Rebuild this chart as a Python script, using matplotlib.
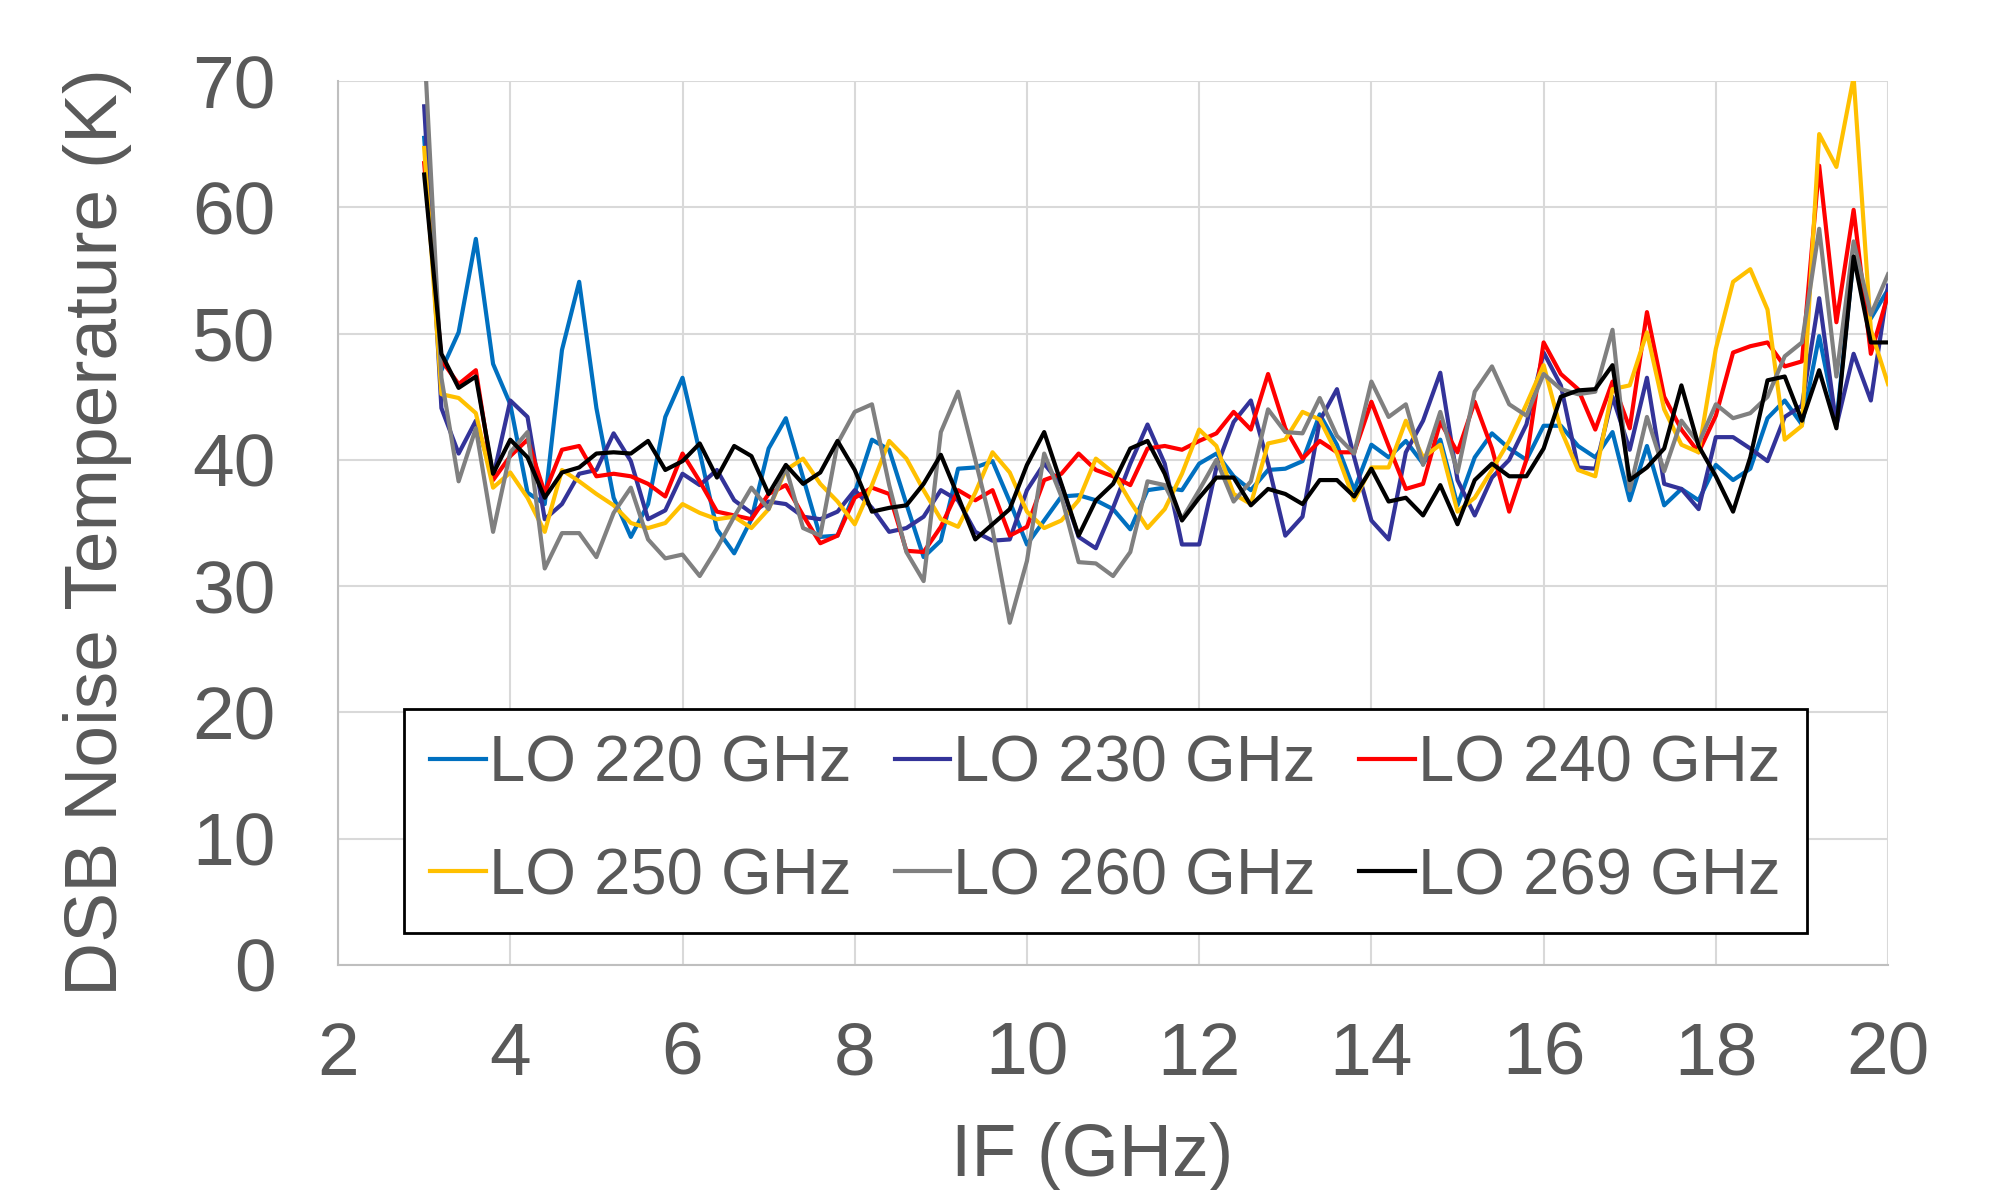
import numpy as np
import matplotlib.pyplot as plt

# IF frequency grid (GHz), one sample every 0.2 GHz from 3 to 20
if_ghz = np.linspace(3.0, 20.0, 86)

# DSB noise temperature (K) for each LO frequency
lo_220 = [65.5, 47.1, 50.1, 57.5, 47.6,
          44.4, 37.4, 36.5, 48.7, 54.1,
          44.1, 37.0, 33.9, 36.5, 43.4,
          46.5, 40.6, 34.5, 32.6, 35.3,
          40.9, 43.3, 38.6, 33.9, 34.0,
          37.4, 41.6, 40.8, 36.5, 32.3,
          33.6, 39.3, 39.4, 39.9, 36.7,
          33.3, 35.2, 37.1, 37.2, 36.8,
          36.1, 34.5, 37.6, 37.8, 37.6,
          39.7, 40.5, 38.7, 37.6, 39.2,
          39.3, 39.9, 43.6, 41.2, 37.6,
          41.2, 40.2, 41.5, 39.7, 41.6,
          36.4, 40.2, 42.1, 40.9, 40.0,
          42.7, 42.7, 41.1, 40.2, 42.2,
          36.8, 41.1, 36.4, 37.7, 36.8,
          39.6, 38.4, 39.3, 43.3, 44.7,
          42.8, 49.8, 43.0, 56.0, 51.2,
          53.5]
lo_230 = [68.0, 44.1, 40.5, 43.1, 38.6,
          44.7, 43.4, 35.3, 36.5, 38.9,
          39.2, 42.1, 39.9, 35.3, 36.0,
          38.9, 38.0, 39.2, 36.8, 35.8,
          36.7, 36.5, 35.5, 35.3, 35.9,
          37.6, 36.2, 34.3, 34.6, 35.5,
          37.6, 36.8, 34.3, 33.6, 33.7,
          37.6, 39.7, 38.0, 33.9, 33.0,
          36.2, 39.7, 42.8, 39.7, 33.3,
          33.3, 39.4, 43.0, 44.7, 39.7,
          34.0, 35.5, 43.1, 45.6, 40.2,
          35.2, 33.7, 40.6, 43.1, 46.9,
          38.4, 35.6, 38.6, 40.0, 42.8,
          48.5, 45.9, 39.4, 39.3, 45.0,
          40.8, 46.5, 38.1, 37.7, 36.1,
          41.8, 41.8, 40.9, 39.9, 43.4,
          44.3, 52.8, 42.7, 48.4, 44.7,
          53.8]
lo_240 = [63.5, 47.9, 46.0, 47.1, 38.4,
          40.3, 41.6, 37.4, 40.8, 41.1,
          38.7, 38.9, 38.7, 38.1, 37.1,
          40.5, 38.3, 35.9, 35.6, 35.3,
          37.3, 38.0, 35.6, 33.4, 34.0,
          37.0, 37.8, 37.3, 32.8, 32.7,
          34.7, 37.6, 36.8, 37.6, 34.0,
          34.7, 38.4, 38.9, 40.5, 39.2,
          38.7, 38.0, 40.9, 41.1, 40.8,
          41.5, 42.1, 43.8, 42.4, 46.8,
          42.5, 40.1, 41.5, 40.6, 40.6,
          44.6, 41.1, 37.7, 38.1, 43.0,
          40.6, 44.6, 40.9, 35.9, 40.0,
          49.3, 46.8, 45.6, 42.4, 46.2,
          42.5, 51.7, 45.0, 42.4, 40.6,
          43.5, 48.5, 49.0, 49.3, 47.4,
          47.8, 63.3, 50.9, 59.8, 48.4,
          53.1]
lo_250 = [64.7, 45.2, 44.9, 43.7, 37.8,
          39.0, 37.0, 34.3, 39.2, 38.3,
          37.3, 36.4, 35.0, 34.6, 35.0,
          36.5, 35.8, 35.3, 35.5, 34.6,
          36.1, 39.2, 40.1, 38.1, 36.7,
          34.9, 38.0, 41.5, 40.1, 37.6,
          35.3, 34.7, 37.4, 40.6, 39.0,
          35.9, 34.6, 35.2, 36.8, 40.1,
          39.0, 36.7, 34.6, 36.1, 38.9,
          42.4, 41.1, 37.3, 36.5, 41.3,
          41.6, 43.8, 43.2, 40.5, 36.8,
          39.4, 39.4, 43.1, 40.2, 41.2,
          35.9, 37.0, 39.2, 41.5, 44.4,
          47.5, 42.4, 39.2, 38.7, 45.6,
          45.9, 50.1, 44.0, 41.2, 40.6,
          48.8, 54.1, 55.1, 51.9, 41.6,
          42.7, 65.8, 63.2, 70.3, 50.3,
          46.0]
lo_260 = [73.0, 46.5, 38.3, 42.5, 34.3,
          40.6, 42.2, 31.4, 34.2, 34.2,
          32.3, 35.8, 37.8, 33.7, 32.2,
          32.5, 30.8, 33.0, 35.5, 37.8,
          36.1, 39.4, 34.6, 34.0, 41.3,
          43.8, 44.4, 38.0, 32.7, 30.4,
          42.2, 45.4, 40.0, 34.5, 27.1,
          32.0, 40.5, 37.1, 31.9, 31.8,
          30.8, 32.7, 38.3, 38.0, 35.3,
          37.6, 40.0, 36.7, 38.3, 44.0,
          42.2, 42.1, 44.9, 41.9, 40.5,
          46.2, 43.4, 44.4, 39.6, 43.8,
          39.0, 45.4, 47.4, 44.4, 43.5,
          46.8, 45.6, 45.2, 45.4, 50.3,
          37.6, 43.4, 39.1, 43.1, 41.3,
          44.4, 43.3, 43.7, 45.0, 48.2,
          49.3, 58.3, 46.6, 57.3, 51.5,
          54.7]
lo_269 = [62.6, 48.4, 45.7, 46.6, 38.9,
          41.6, 40.2, 37.0, 39.0, 39.4,
          40.5, 40.6, 40.5, 41.5, 39.2,
          39.9, 41.3, 38.6, 41.1, 40.3,
          37.3, 39.6, 38.1, 39.0, 41.5,
          39.2, 35.9, 36.2, 36.4, 38.1,
          40.4, 37.1, 33.7, 34.9, 36.1,
          39.6, 42.2, 38.1, 34.0, 36.8,
          38.1, 40.9, 41.5, 38.9, 35.2,
          37.0, 38.6, 38.6, 36.4, 37.7,
          37.3, 36.5, 38.4, 38.4, 37.1,
          39.3, 36.7, 37.0, 35.6, 38.0,
          34.9, 38.4, 39.7, 38.7, 38.7,
          40.9, 45.0, 45.5, 45.6, 47.5,
          38.4, 39.4, 40.9, 45.9, 41.1,
          38.7, 35.9, 40.2, 46.3, 46.6,
          43.1, 47.1, 42.5, 56.1, 49.3,
          49.3]

series = [lo_220, lo_230, lo_240, lo_250, lo_260, lo_269]
labels = ['LO 220 GHz', 'LO 230 GHz', 'LO 240 GHz',
          'LO 250 GHz', 'LO 260 GHz', 'LO 269 GHz']
colours = ['#0070C0', '#333399', '#FF0000', '#FFC000', '#808080', '#000000']

x_ticks = [2, 4, 6, 8, 10, 12, 14, 16, 18, 20]
y_ticks = [0, 10, 20, 30, 40, 50, 60, 70]

TEXT = '#595959'
GRID = '#D9D9D9'


def noise_plot():
    '''
    () -> None
    Plot DSB noise temperature against IF for every LO and save to out.png.
    '''
    plt.rcParams['font.family'] = ['Liberation Sans', 'DejaVu Sans']

    fig = plt.figure(figsize=(19.91, 11.90), dpi=100)
    ax = fig.add_axes([0.1698, 0.1891, 0.9483 - 0.1698, 0.9319 - 0.1891])

    # Draw every LO curve
    lines = []
    for y, lab, col in zip(series, labels, colours):
        ln, = ax.plot(if_ghz, y, color=col, lw=3.0, label=lab, zorder=3)
        lines.append(ln)

    ax.set_xlim(2, 20)
    ax.set_ylim(0, 70)
    ax.set_xticks(x_ticks)
    ax.set_yticks(y_ticks)
    ax.grid(True, color=GRID, lw=1.5, zorder=0)
    ax.set_axisbelow(True)

    for side in ['top', 'right']:
        ax.spines[side].set_visible(False)
    for side in ['left', 'bottom']:
        ax.spines[side].set_color('#BFBFBF')
        ax.spines[side].set_linewidth(1.5)

    ax.tick_params(axis='both', length=0, labelsize=54, labelcolor=TEXT)
    ax.tick_params(axis='y', pad=45)
    ax.tick_params(axis='x', pad=40)

    # Axis titles placed on the figure so they match the original positions
    fig.text(0.049, 0.553, 'DSB Noise Temperature (K)', rotation=90,
             ha='center', va='center', fontsize=54, color=TEXT)
    fig.text(0.5485, 0.028, 'IF (GHz)', ha='center', va='center',
             fontsize=53, color=TEXT)

    # Legend is filled row by row in the original, matplotlib fills by column
    order = [0, 3, 1, 4, 2, 5]
    leg = ax.legend([lines[i] for i in order], [labels[i] for i in order],
                    ncol=3, loc='lower left',
                    bbox_to_anchor=(0.0426, 0.036, 0.905, 0.255), mode='expand',
                    fontsize=47, frameon=True, fancybox=False,
                    edgecolor='black', framealpha=1, handlelength=0.85,
                    handletextpad=0.05, columnspacing=0.9, labelspacing=0.8,
                    borderpad=0.4, borderaxespad=0)
    leg.get_frame().set_linewidth(2)
    for t in leg.get_texts():
        t.set_color(TEXT)

    fig.savefig('out.png', dpi=100)


noise_plot()
